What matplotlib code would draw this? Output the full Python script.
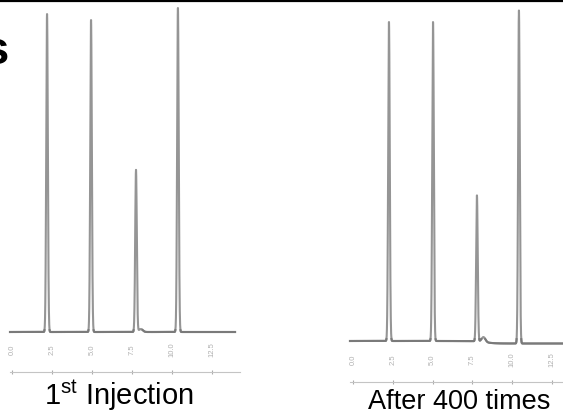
import matplotlib
matplotlib.use("Agg")
import matplotlib.pyplot as plt
from matplotlib.lines import Line2D
import numpy as np

# data -----------------------------------------------------
tick_vals = [0.0, 2.5, 5.0, 7.5, 10.0, 12.5]
tick_labels = ["0.0", "2.5", "5.0", "7.5", "10.0", "12.5"]

# 1st injection: retention time (min) and peak height
rt_first = [2.19, 4.94, 7.75, 10.37]
h_first = [318, 312, 162, 324]
bump_first = [8.05, 3]          # small hump after peak 3
span_first = [-0.125, 13.94]

# after 400 injections
rt_after = [2.26, 5.03, 7.79, 10.43]
h_after = [319, 319, 146, 333]
bump_after = [8.2, 5]
span_after = [-0.19, 13.2]
drift_after = [8.3, -2.5]      # baseline step after peak 3

sigma = 0.05

peakcolor = "#959595"
basecolor = "#7a7a7a"
axiscolor = "#c4c4c4"
#-----------------------------------------------------------

W, H = 563, 416
fig = plt.figure(figsize=(W / 100, H / 100), dpi=100)
plt.rcParams['font.family'] = ['Liberation Sans', 'DejaVu Sans']
plt.rcParams['mathtext.fontset'] = 'custom'
plt.rcParams['mathtext.rm'] = 'Liberation Sans'


def trace(t, rts, hs, bump, drift=None):
    y = np.zeros_like(t)
    for r, h in zip(rts, hs):
        y += h * np.exp(-0.5 * ((t - r) / sigma) ** 2)
    y += bump[1] * np.exp(-0.5 * ((t - bump[0]) / 0.12) ** 2)
    if drift is not None:
        y += drift[1] / (1 + np.exp(-(t - drift[0]) / 0.3))
    return y


def panel(x0, w, xlim, ylim, rts, hs, bump, span, axis_y, lab_y, drift=None):
    ax = fig.add_axes([x0 / W, 0, w / W, 1])
    t = np.linspace(span[0], span[1], 6000)
    y = trace(t, rts, hs, bump, drift)
    ax.plot(t, y, color=peakcolor, lw=1.5)
    ax.plot(t, np.where(y < 2, y, np.nan), color=basecolor, lw=1.5)
    ax.set_xlim(*xlim)
    ax.set_ylim(*ylim)
    for s in ['top', 'left', 'right']:
        ax.spines[s].set_visible(False)
    ax.spines['bottom'].set_position(('data', axis_y))
    ax.spines['bottom'].set_color(axiscolor)
    ax.spines['bottom'].set_linewidth(0.8)
    ax.spines['bottom'].set_bounds(span[0], span[1] + 0.3)
    ax.set_xticks(tick_vals)
    ax.tick_params(axis='x', direction='inout', length=3, color='#aaaaaa',
                   labelbottom=False)
    ax.set_yticks([])
    ax.patch.set_alpha(0)
    for v, lab in zip(tick_vals, tick_labels):
        ax.text(v, lab_y, lab, rotation=90, ha='center', va='center',
                fontsize=5.5, color='#b0b0b0')
    return ax


panel(0, 260, (-0.75, 15.5), (-84, 332), rt_first, h_first, bump_first,
      span_first, -40, -18)
panel(330, 233, (-1.446, 13.2), (-75, 341), rt_after, h_after, bump_after,
      span_after, -41, -19, drift_after)

# top rule and cut-off heading letter
fig.add_artist(Line2D([0, 1], [1 - 1 / H, 1 - 1 / H], color='black', lw=1.6))
fig.text(9 / W, 1 - 64 / H, "s", ha='right', va='baseline', fontsize=34,
         fontweight='bold')

fig.text(119 / W, 1 - 405 / H, r"1$^{\mathrm{st}}$ Injection", ha='center',
         va='baseline', fontsize=21)
fig.text(459 / W, 1 - 409 / H, "After 400 times", ha='center',
         va='baseline', fontsize=19.5)

plt.savefig("out.png", dpi=100)
plt.close()
